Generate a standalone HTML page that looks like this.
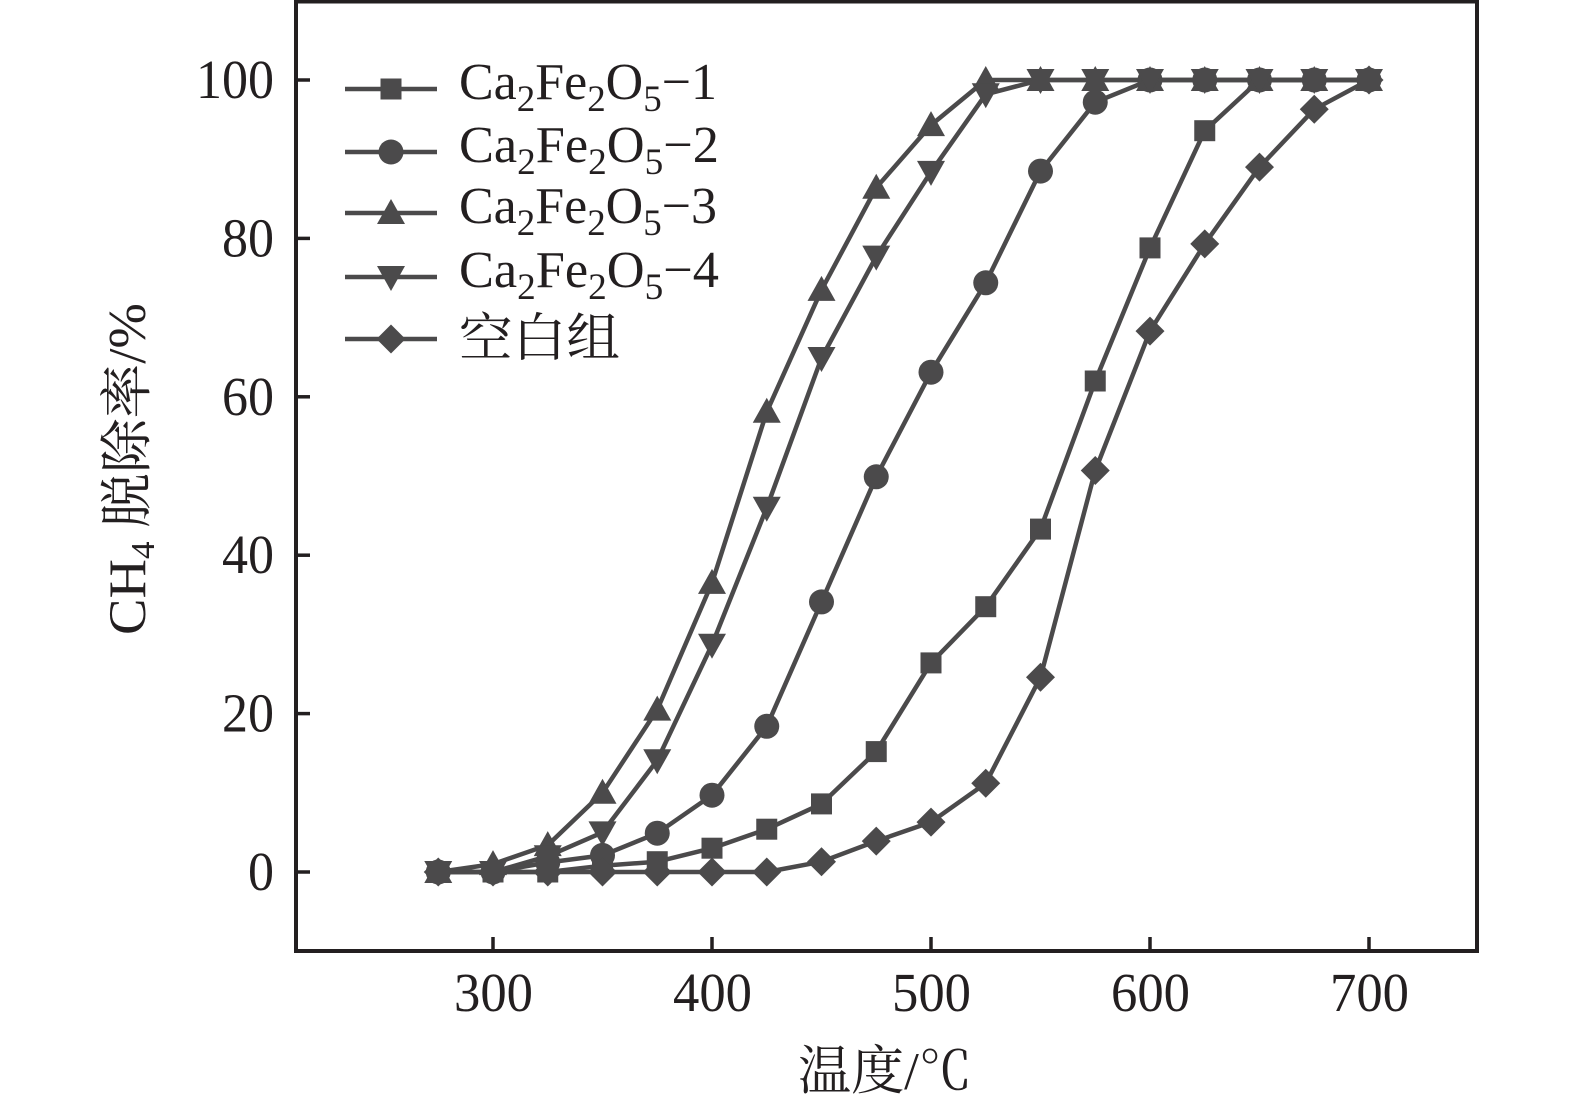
<!DOCTYPE html>
<html>
<head>
<meta charset="utf-8">
<style>
html,body{margin:0;padding:0;background:#fff;}
svg{display:block;}
text{font-family:"Liberation Serif","Noto Serif CJK SC",serif;fill:#231f20;}
</style>
</head>
<body>
<svg width="1575" height="1110" viewBox="0 0 1575 1110" xmlns="http://www.w3.org/2000/svg">
<defs>
<rect id="sq" x="-10.5" y="-10.5" width="21" height="21" fill="#4b4a4b"/>
<circle id="ci" cx="0" cy="0" r="12.5" fill="#4b4a4b"/>
<polygon id="tu" points="0,-14 14,11 -14,11" fill="#4b4a4b"/>
<polygon id="td" points="0,14 14,-11 -14,-11" fill="#4b4a4b"/>
<polygon id="di" points="0,-14.5 14.5,0 0,14.5 -14.5,0" fill="#4b4a4b"/>
</defs>

<!-- axes frame -->
<rect x="296" y="1.5" width="1181" height="949.5" fill="none" stroke="#231f20" stroke-width="4"/>
<!-- y ticks -->
<g stroke="#231f20" stroke-width="3.5">
<line x1="296" y1="872" x2="310" y2="872"/>
<line x1="296" y1="713.6" x2="310" y2="713.6"/>
<line x1="296" y1="555.2" x2="310" y2="555.2"/>
<line x1="296" y1="396.8" x2="310" y2="396.8"/>
<line x1="296" y1="238.4" x2="310" y2="238.4"/>
<line x1="296" y1="80" x2="310" y2="80"/>
<!-- x ticks -->
<line x1="493" y1="951" x2="493" y2="937"/>
<line x1="712" y1="951" x2="712" y2="937"/>
<line x1="931" y1="951" x2="931" y2="937"/>
<line x1="1150" y1="951" x2="1150" y2="937"/>
<line x1="1369" y1="951" x2="1369" y2="937"/>
</g>

<!-- y tick labels -->
<g font-size="55" text-anchor="end">
<text x="274" y="890" textLength="26" lengthAdjust="spacingAndGlyphs">0</text>
<text x="274" y="731.6" textLength="52" lengthAdjust="spacingAndGlyphs">20</text>
<text x="274" y="573.2" textLength="52" lengthAdjust="spacingAndGlyphs">40</text>
<text x="274" y="414.8" textLength="52" lengthAdjust="spacingAndGlyphs">60</text>
<text x="274" y="256.4" textLength="52" lengthAdjust="spacingAndGlyphs">80</text>
<text x="274" y="98" textLength="78" lengthAdjust="spacingAndGlyphs">100</text>
</g>
<!-- x tick labels -->
<g font-size="55">
<text x="454" y="1011" textLength="79" lengthAdjust="spacingAndGlyphs">300</text>
<text x="673" y="1011" textLength="79" lengthAdjust="spacingAndGlyphs">400</text>
<text x="892" y="1011" textLength="79" lengthAdjust="spacingAndGlyphs">500</text>
<text x="1111" y="1011" textLength="79" lengthAdjust="spacingAndGlyphs">600</text>
<text x="1330" y="1011" textLength="79" lengthAdjust="spacingAndGlyphs">700</text>
</g>

<!-- axis titles -->
<text x="798" y="1089" font-size="53" textLength="174" lengthAdjust="spacingAndGlyphs">温度/℃</text>
<g transform="translate(145,635) rotate(-90)">
<text x="0" y="0" font-size="53" textLength="332" lengthAdjust="spacingAndGlyphs">CH<tspan font-size="34" dy="9">4</tspan><tspan dy="-9"> 脱除率/%</tspan></text>
</g>

<!-- series lines -->
<g fill="none" stroke="#4b4a4b" stroke-width="4.5" stroke-linejoin="round">
<polyline points="438.25,872 493,872 547.75,872 602.5,865.7 657.25,861.7 712,848.2 766.75,829.2 821.5,803.9 876.25,751.6 931,662.9 985.75,606.7 1040.5,529.1 1095.25,381 1150,247.9 1204.75,130.7 1259.5,80 1314.25,80 1369,80"/>
<polyline points="438.25,872 493,872 547.75,862.5 602.5,855.4 657.25,833.2 712,795.2 766.75,726.3 821.5,601.9 876.25,476.8 931,372.2 985.75,282.8 1040.5,171.1 1095.25,102.2 1150,80 1204.75,80 1259.5,80 1314.25,80 1369,80"/>
<polyline points="438.25,872 493,864.1 547.75,845.1 602.5,792.8 657.25,709.6 712,582.9 766.75,411.8 821.5,289.9 876.25,187.7 931,125.1 985.75,80 1040.5,80 1095.25,80 1150,80 1204.75,80 1259.5,80 1314.25,80 1369,80"/>
<polyline points="438.25,872 493,872 547.75,856.2 602.5,832.4 657.25,760.3 712,644.7 766.75,507.7 821.5,358 876.25,256.6 931,171.9 985.75,94.3 1040.5,80 1095.25,80 1150,80 1204.75,80 1259.5,80 1314.25,80 1369,80"/>
<polyline points="438.25,872 493,872 547.75,872 602.5,872 657.25,872 712,872 766.75,872 821.5,861.7 876.25,841.1 931,822.1 985.75,783.3 1040.5,677.2 1095.25,470.5 1150,331.1 1204.75,243.9 1259.5,167.1 1314.25,109.3 1369,80"/>
</g>

<!-- markers S1 squares -->
<g>
<use href="#sq" x="438.25" y="872"/><use href="#sq" x="493" y="872"/><use href="#sq" x="547.75" y="872"/><use href="#sq" x="602.5" y="865.7"/><use href="#sq" x="657.25" y="861.7"/><use href="#sq" x="712" y="848.2"/><use href="#sq" x="766.75" y="829.2"/><use href="#sq" x="821.5" y="803.9"/><use href="#sq" x="876.25" y="751.6"/><use href="#sq" x="931" y="662.9"/><use href="#sq" x="985.75" y="606.7"/><use href="#sq" x="1040.5" y="529.1"/><use href="#sq" x="1095.25" y="381"/><use href="#sq" x="1150" y="247.9"/><use href="#sq" x="1204.75" y="130.7"/><use href="#sq" x="1259.5" y="80"/><use href="#sq" x="1314.25" y="80"/><use href="#sq" x="1369" y="80"/>
</g>
<!-- S2 circles -->
<g>
<use href="#ci" x="438.25" y="872"/><use href="#ci" x="493" y="872"/><use href="#ci" x="547.75" y="862.5"/><use href="#ci" x="602.5" y="855.4"/><use href="#ci" x="657.25" y="833.2"/><use href="#ci" x="712" y="795.2"/><use href="#ci" x="766.75" y="726.3"/><use href="#ci" x="821.5" y="601.9"/><use href="#ci" x="876.25" y="476.8"/><use href="#ci" x="931" y="372.2"/><use href="#ci" x="985.75" y="282.8"/><use href="#ci" x="1040.5" y="171.1"/><use href="#ci" x="1095.25" y="102.2"/><use href="#ci" x="1150" y="80"/><use href="#ci" x="1204.75" y="80"/><use href="#ci" x="1259.5" y="80"/><use href="#ci" x="1314.25" y="80"/><use href="#ci" x="1369" y="80"/>
</g>
<!-- S3 triangles up -->
<g>
<use href="#tu" x="438.25" y="872"/><use href="#tu" x="493" y="864.1"/><use href="#tu" x="547.75" y="845.1"/><use href="#tu" x="602.5" y="792.8"/><use href="#tu" x="657.25" y="709.6"/><use href="#tu" x="712" y="582.9"/><use href="#tu" x="766.75" y="411.8"/><use href="#tu" x="821.5" y="289.9"/><use href="#tu" x="876.25" y="187.7"/><use href="#tu" x="931" y="125.1"/><use href="#tu" x="985.75" y="80"/><use href="#tu" x="1040.5" y="80"/><use href="#tu" x="1095.25" y="80"/><use href="#tu" x="1150" y="80"/><use href="#tu" x="1204.75" y="80"/><use href="#tu" x="1259.5" y="80"/><use href="#tu" x="1314.25" y="80"/><use href="#tu" x="1369" y="80"/>
</g>
<!-- S4 triangles down -->
<g>
<use href="#td" x="438.25" y="872"/><use href="#td" x="493" y="872"/><use href="#td" x="547.75" y="856.2"/><use href="#td" x="602.5" y="832.4"/><use href="#td" x="657.25" y="760.3"/><use href="#td" x="712" y="644.7"/><use href="#td" x="766.75" y="507.7"/><use href="#td" x="821.5" y="358"/><use href="#td" x="876.25" y="256.6"/><use href="#td" x="931" y="171.9"/><use href="#td" x="985.75" y="94.3"/><use href="#td" x="1040.5" y="80"/><use href="#td" x="1095.25" y="80"/><use href="#td" x="1150" y="80"/><use href="#td" x="1204.75" y="80"/><use href="#td" x="1259.5" y="80"/><use href="#td" x="1314.25" y="80"/><use href="#td" x="1369" y="80"/>
</g>
<!-- S5 diamonds -->
<g>
<use href="#di" x="438.25" y="872"/><use href="#di" x="493" y="872"/><use href="#di" x="547.75" y="872"/><use href="#di" x="602.5" y="872"/><use href="#di" x="657.25" y="872"/><use href="#di" x="712" y="872"/><use href="#di" x="766.75" y="872"/><use href="#di" x="821.5" y="861.7"/><use href="#di" x="876.25" y="841.1"/><use href="#di" x="931" y="822.1"/><use href="#di" x="985.75" y="783.3"/><use href="#di" x="1040.5" y="677.2"/><use href="#di" x="1095.25" y="470.5"/><use href="#di" x="1150" y="331.1"/><use href="#di" x="1204.75" y="243.9"/><use href="#di" x="1259.5" y="167.1"/><use href="#di" x="1314.25" y="109.3"/><use href="#di" x="1369" y="80"/>
</g>

<!-- legend -->
<g stroke="#4b4a4b" stroke-width="4.5">
<line x1="345" y1="89" x2="437" y2="89"/>
<line x1="345" y1="152" x2="437" y2="152"/>
<line x1="345" y1="213" x2="437" y2="213"/>
<line x1="345" y1="277" x2="437" y2="277"/>
<line x1="345" y1="339" x2="437" y2="339"/>
</g>
<use href="#sq" x="391" y="89"/>
<use href="#ci" x="391" y="152"/>
<use href="#tu" x="391" y="213"/>
<use href="#td" x="391" y="277"/>
<use href="#di" x="391" y="339"/>

<g font-size="52">
<text x="459" y="99" textLength="258" lengthAdjust="spacingAndGlyphs">Ca<tspan font-size="37" dy="12">2</tspan><tspan dy="-12">Fe</tspan><tspan font-size="37" dy="12">2</tspan><tspan dy="-12">O</tspan><tspan font-size="37" dy="12">5</tspan><tspan dy="-12">−1</tspan></text>
<text x="459" y="162" textLength="260" lengthAdjust="spacingAndGlyphs">Ca<tspan font-size="37" dy="12">2</tspan><tspan dy="-12">Fe</tspan><tspan font-size="37" dy="12">2</tspan><tspan dy="-12">O</tspan><tspan font-size="37" dy="12">5</tspan><tspan dy="-12">−2</tspan></text>
<text x="459" y="223" textLength="258" lengthAdjust="spacingAndGlyphs">Ca<tspan font-size="37" dy="12">2</tspan><tspan dy="-12">Fe</tspan><tspan font-size="37" dy="12">2</tspan><tspan dy="-12">O</tspan><tspan font-size="37" dy="12">5</tspan><tspan dy="-12">−3</tspan></text>
<text x="459" y="287" textLength="260" lengthAdjust="spacingAndGlyphs">Ca<tspan font-size="37" dy="12">2</tspan><tspan dy="-12">Fe</tspan><tspan font-size="37" dy="12">2</tspan><tspan dy="-12">O</tspan><tspan font-size="37" dy="12">5</tspan><tspan dy="-12">−4</tspan></text>
<text x="459" y="356" textLength="161" lengthAdjust="spacingAndGlyphs">空白组</text>
</g>
</svg>
</body>
</html>
